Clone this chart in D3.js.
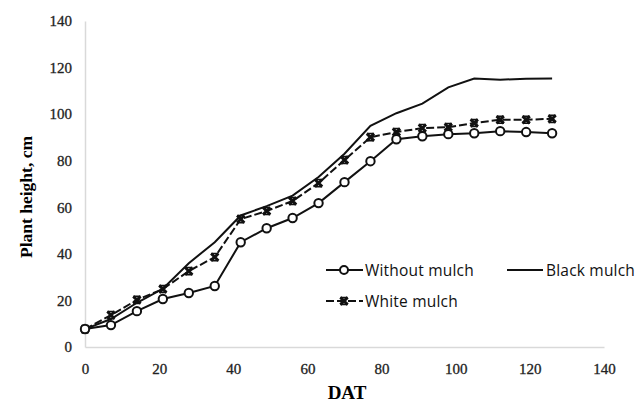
<!DOCTYPE html>
<html><head><meta charset="utf-8">
<script src="https://cdn.jsdelivr.net/npm/d3@7"></script>
<style>body{margin:0;background:#fff}</style>
</head><body>
<svg id="c" width="639" height="404"></svg>
<script>
const days = [0,7,14,21,28,35,42,49,56,63,70,77,84,91,98,105,112,119,126];
const withoutMulch = [7.7,9.4,15.4,20.6,23.2,26.2,45.0,51.0,55.4,61.8,70.8,79.8,89.2,90.5,91.4,91.8,92.7,92.3,91.8];
const blackMulch = [7.7,12,19,25,36,45,56.5,60.5,65,73,83,95,100.4,104.5,111.5,115.3,114.8,115.2,115.3];
const whiteMulch = [7.7,13.7,20.2,24.9,32.6,38.6,54.9,58.4,62.7,70.4,80.3,90.1,92.3,94.0,94.4,96.2,97.6,97.6,98.0];
const xTicks = [0,20,40,60,80,100,120,140];
const yTicks = [0,20,40,60,80,100,120,140];

const svg = d3.select("#c");
const x = d3.scaleLinear().domain([0,140]).range([85,604]);
const y = d3.scaleLinear().domain([0,140]).range([347,21]);

// axes
const gx = svg.append("g").attr("transform","translate(0,347)")
  .call(d3.axisBottom(x).tickValues(xTicks).tickSize(0).tickPadding(16));
const gy = svg.append("g").attr("transform","translate(85,0)")
  .call(d3.axisLeft(y).tickValues(yTicks).tickSize(0).tickPadding(13));
[gx,gy].forEach(g=>{
  g.select(".domain").attr("stroke","#d9d9d9").attr("stroke-width",1.5);
  g.selectAll("text").attr("font-family","Liberation Serif").attr("font-size",15).attr("fill","#222")
    .attr("stroke","#222").attr("stroke-width",0.3);
});

// titles
svg.append("text").attr("x",347).attr("y",399).attr("text-anchor","middle")
  .attr("font-family","Liberation Serif").attr("font-weight","bold").attr("font-size",19).text("DAT");
svg.append("text").attr("transform","translate(32,197) rotate(-90)").attr("text-anchor","middle")
  .attr("font-family","Liberation Serif").attr("font-weight","bold").attr("font-size",17.5).text("Plant height, cm");

const line = d3.line().x((d,i)=>x(days[i])).y(d=>y(d));

svg.append("path").datum(blackMulch).attr("d",line).attr("fill","none").attr("stroke","#111").attr("stroke-width",2);
svg.append("path").datum(whiteMulch).attr("d",line).attr("fill","none").attr("stroke","#111").attr("stroke-width",2).attr("stroke-dasharray","8,3");
svg.append("path").datum(withoutMulch).attr("d",line).attr("fill","none").attr("stroke","#111").attr("stroke-width",2);

function xMarker(g, cx, cy){
  const s=3.6;
  g.append("path").attr("d",`M${cx-s},${cy-s}L${cx+s},${cy+s}M${cx+s},${cy-s}L${cx-s},${cy+s}`)
    .attr("stroke","#111").attr("stroke-width",3);
  g.append("path").attr("d",`M${cx-s},${cy-s}L${cx+s},${cy-s}M${cx-s},${cy+s}L${cx+s},${cy+s}`)
    .attr("stroke","#111").attr("stroke-width",1.5);
}
const mw = svg.append("g");
whiteMulch.forEach((v,i)=>xMarker(mw, x(days[i]), y(v)));
svg.append("g").selectAll("circle").data(withoutMulch).join("circle")
  .attr("cx",(d,i)=>x(days[i])).attr("cy",d=>y(d)).attr("r",4.2)
  .attr("fill","#fff").attr("stroke","#111").attr("stroke-width",2);

// legend
const lg = svg.append("g").attr("font-family","Open Sans").attr("font-size",15.5).attr("letter-spacing",0.2).attr("fill","#111");
lg.append("line").attr("x1",326).attr("x2",363).attr("y1",270).attr("y2",270).attr("stroke","#111").attr("stroke-width",2);
lg.append("circle").attr("cx",344).attr("cy",270).attr("r",4).attr("fill","#fff").attr("stroke","#111").attr("stroke-width",2);
lg.append("text").attr("x",365).attr("y",275.5).text("Without mulch");
lg.append("line").attr("x1",507).attr("x2",543).attr("y1",270).attr("y2",270).attr("stroke","#111").attr("stroke-width",2);
lg.append("text").attr("x",546).attr("y",275.5).text("Black mulch");
lg.append("line").attr("x1",326).attr("x2",363).attr("y1",301).attr("y2",301).attr("stroke","#111").attr("stroke-width",2).attr("stroke-dasharray","8,3");
xMarker(lg, 344, 301);
lg.append("text").attr("x",365).attr("y",306.5).text("White mulch");
</script>
</body></html>
